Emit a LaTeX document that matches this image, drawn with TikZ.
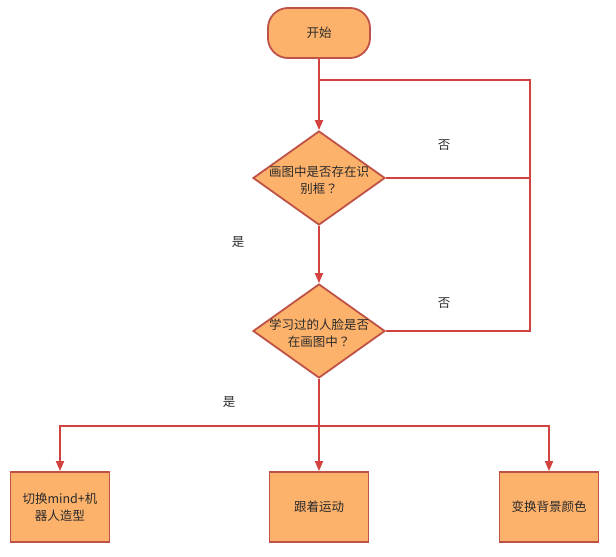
\documentclass[tikz,border=0pt]{standalone}
\usepackage{fontspec}
\setmainfont{Noto Sans CJK SC}
\newfontfamily\tcfont{Noto Sans CJK TC}
\usetikzlibrary{shapes.geometric,arrows.meta}
\definecolor{boxfill}{HTML}{FDB26B}
\definecolor{boxline}{HTML}{BF5247}
\definecolor{wire}{HTML}{D2423F}
\definecolor{txt}{HTML}{2B2B2B}
\begin{document}
\begin{tikzpicture}[x=1pt,y=-1pt,
  every node/.style={font=\fontsize{12.5}{17}\selectfont, text=txt},
  startbox/.style={draw=boxline, fill=boxfill, line width=1.8pt, rounded corners=20pt, minimum width=102pt, minimum height=50pt, inner sep=0pt},
  decide/.style={draw=boxline, fill=boxfill, line width=1.8pt, diamond, minimum width=132pt, minimum height=94pt, inner sep=0pt},
  actbox/.style={draw=boxline, fill=boxfill, line width=1.8pt, minimum width=99pt, minimum height=70pt, inner sep=0pt, align=center},
  dtext/.style={align=center, inner sep=0pt},
  lab/.style={inner sep=0pt},
  wireline/.style={draw=wire, line width=1.8pt},
  arr/.style={wireline, -{Triangle[length=10pt,width=8pt]}}
]
\useasboundingbox (0,0) rectangle (616,557);
\node[startbox] (start) at (319,33) {开始};
\node[decide] (d1) at (319,178) {};
\node[dtext] (t1) at (319,180) {画图中是否存在识\\别框{\tcfont ？}};
\node[decide] (d2) at (319,331) {};
\node[dtext] (t2) at (319,333) {学习过的人脸是否\\在画图中{\tcfont ？}};
\node[actbox] (b1) at (60,507) {切换mind+机\\器人造型};
\node[actbox] (b2) at (319,507) {跟着运动};
\node[actbox] (b3) at (549,507) {变换背景颜色};
\node[lab] (n1) at (444,145) {否};
\node[lab] (n2) at (444,303) {否};
\node[lab] (y1) at (238,242) {是};
\node[lab] (y2) at (229,402) {是};
\coordinate (j1) at (319,80);
\coordinate (rt) at (530,80);
\coordinate (jb) at (319,426);
\draw[arr] (start.south) -- (d1.north);
\draw[wireline] (j1) -- (rt) -- (rt |- d2.east) -- (d2.east);
\draw[wireline] (d1.east) -- (d1.east -| rt);
\draw[arr] (d1.south) -- (d2.north);
\draw[arr] (d2.south) -- (b2.north);
\draw[arr] (jb) -| (b1.north);
\draw[arr] (jb) -| (b3.north);
\end{tikzpicture}
\end{document}
